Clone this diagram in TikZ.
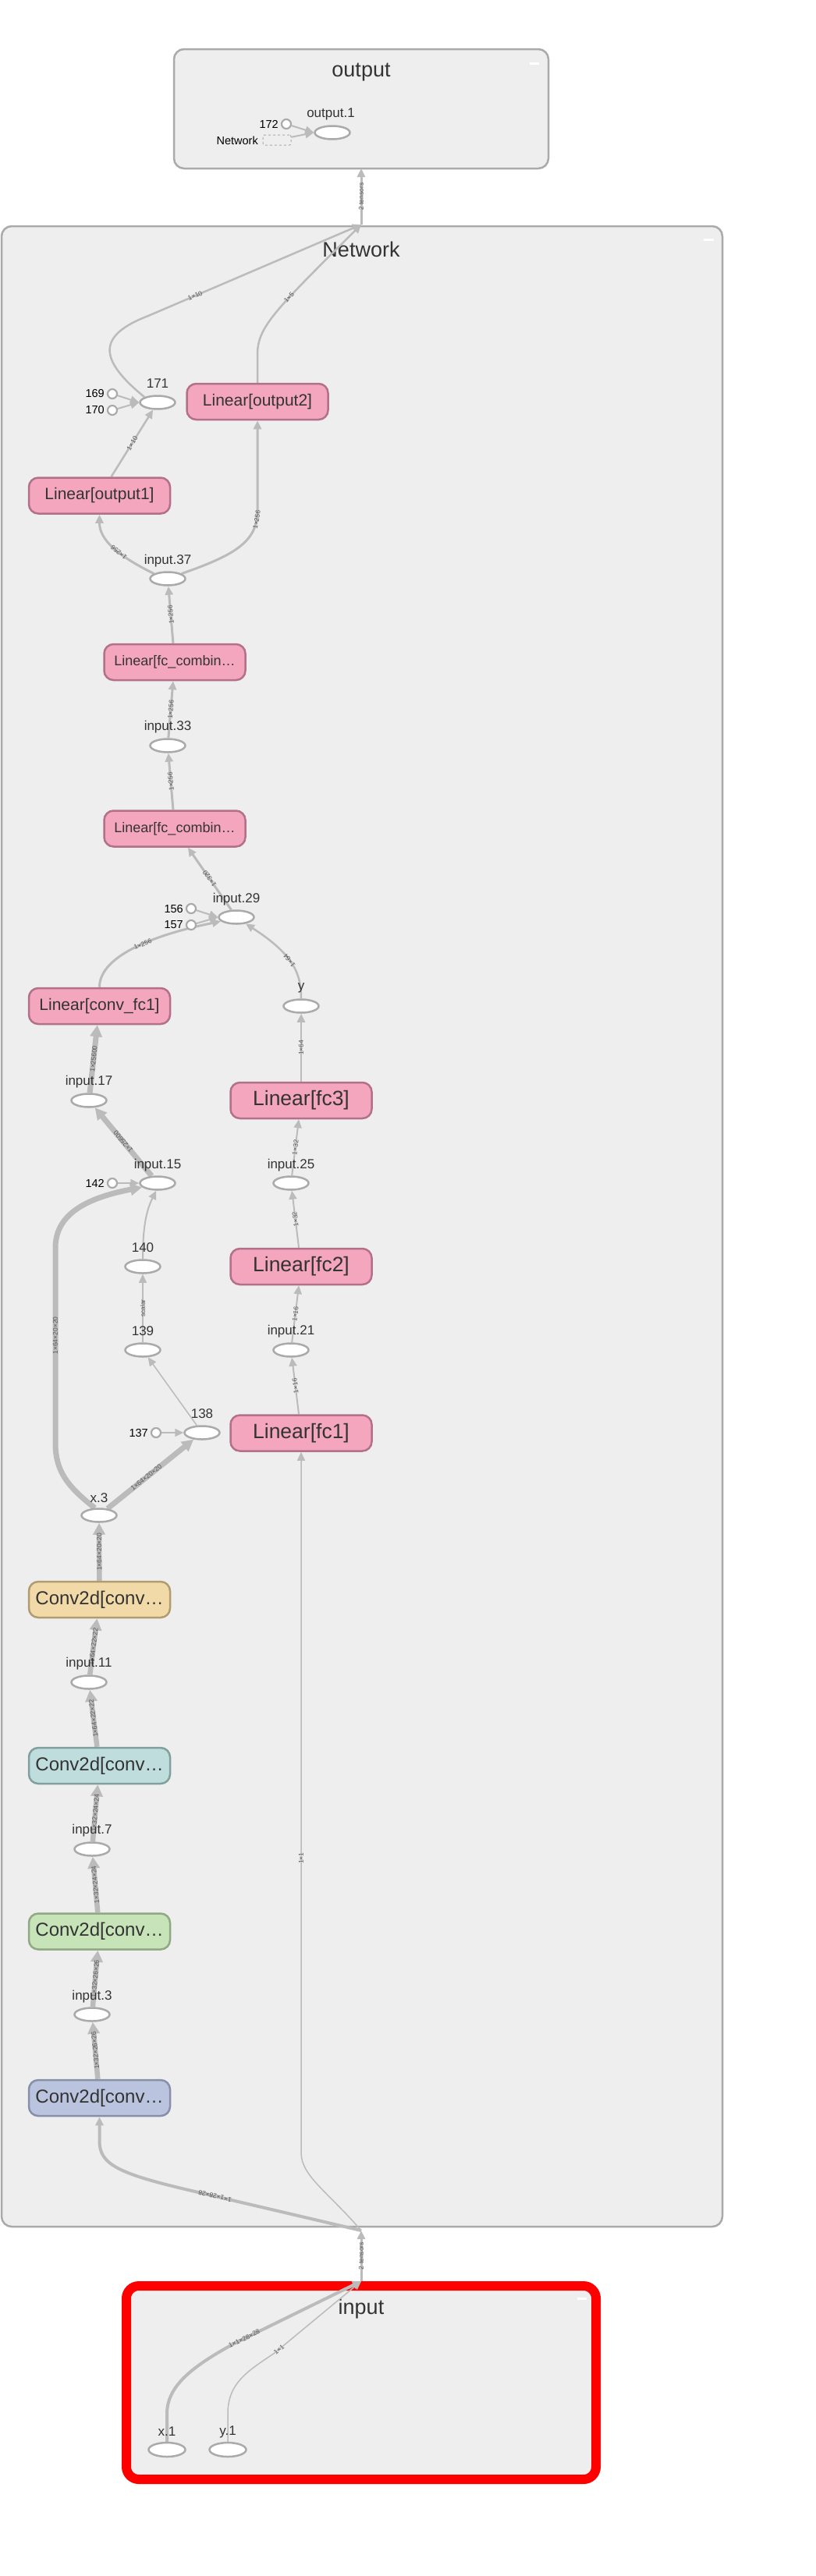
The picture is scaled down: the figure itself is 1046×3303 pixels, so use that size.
\documentclass[tikz,border=0pt]{standalone}
\usepackage{fontspec}
\setmainfont{Liberation Sans}
\usetikzlibrary{arrows.meta,shapes.geometric,calc}
\pgfdeclarelayer{grplayer}
\pgfdeclarelayer{edgelayer}
\pgfsetlayers{grplayer,edgelayer,main}
\definecolor{grpfill}{HTML}{EEEEEE}
\definecolor{grpline}{HTML}{AAAAAA}
\definecolor{ellline}{HTML}{AAAAAA}
\definecolor{edgec}{HTML}{BBBBBB}
\definecolor{txt}{HTML}{333333}
\definecolor{lblc}{HTML}{555555}
\definecolor{linfill}{HTML}{F4A6BF}
\definecolor{linline}{HTML}{B27089}
\definecolor{orfill}{HTML}{F2DAA8}
\definecolor{orline}{HTML}{B09C70}
\definecolor{tlfill}{HTML}{BEDDDC}
\definecolor{tlline}{HTML}{80A09E}
\definecolor{grfill}{HTML}{C7E3B8}
\definecolor{grline}{HTML}{90A884}
\definecolor{blfill}{HTML}{BAC4DE}
\definecolor{blline}{HTML}{8690A8}
\definecolor{redc}{HTML}{FF0000}
\begin{document}
\begin{tikzpicture}[x=1pt,y=-1pt,
  grpbox/.style={draw=grpline,fill=grpfill,line width=2.5pt,rounded corners=13pt},
  grptitle/.style={font=\fontsize{27}{27}\selectfont,text=txt,inner sep=0pt},
  opbox/.style={rectangle,rounded corners=12pt,line width=2.5pt,minimum width=181pt,minimum height=46pt,inner sep=0pt,text=txt},
  linbox/.style={opbox,fill=linfill,draw=linline},
  convbox/.style={opbox,font=\fontsize{24}{24}\selectfont},
  ellnode/.style={ellipse,draw=ellline,fill=white,line width=2.5pt,minimum width=45pt,minimum height=17pt,inner sep=0pt},
  cnode/.style={circle,draw=ellline,fill=white,line width=2.2pt,minimum size=12pt,inner sep=0pt},
  nlab/.style={font=\fontsize{17}{17}\selectfont,text=txt,inner sep=0pt},
  numlab/.style={font=\fontsize{14.5}{14.5}\selectfont,text=black,inner sep=0pt,anchor=east},
  elab/.style={font=\fontsize{8.5}{8.5}\selectfont,text=lblc,inner sep=0pt,sloped,allow upside down},
  conn/.style={draw=edgec,line width=#1,-{Triangle[length=11pt,width=10pt]}},
  conn/.default=2.5pt,
  bigconn/.style={draw=edgec,line width=#1,-{Triangle[length=15pt,width=15pt]}},
  bigconn/.default=6.5pt
]
\useasboundingbox (0,0) rectangle (1046,3303);
\begin{pgfonlayer}{grplayer}
\fill[white] (0,0) rectangle (1046,3303);
\draw[grpbox] (223,63) rectangle (703,216);
\draw[grpbox] (2,290) rectangle (926,2855);
\draw[grpbox,draw=redc,line width=12pt,rounded corners=16pt] (162,2931) rectangle (764,3179);
\fill[white] (679,80) rectangle (691,83);
\fill[white] (902,306) rectangle (915,309);
\fill[white] (740,2946) rectangle (752,2949);
\node[grptitle] (ttlout) at (463,93) {output};
\node[grptitle] (ttlnet) at (463,320) {Network};
\node[grptitle] (ttlin) at (463,2960) {input};
\end{pgfonlayer}

% coordinates for bridges
\coordinate (obot) at (463,216);
\coordinate (ntop) at (463,288);
\coordinate (nbot) at (463,2860);
\coordinate (itop) at (463,2925);

% output group
\node[ellnode] (out1) at (426,170) {};
\node[nlab] (out1lab) at (424,146) {output.1};
\node[cnode] (c172) at (367,159) {};
\node[numlab] (c172lab) at (357,159) {172};
\node[draw=ellline,dashed,line width=1pt,minimum width=36pt,minimum height=13pt,inner sep=0pt,rounded corners=2pt] (netref) at (355,179.5) {};
\node[numlab] (netreflab) at (331,180) {Network};

% Network group
\node[ellnode] (n171) at (202,516) {};
\node[nlab] (n171lab) at (202,492) {171};
\node[cnode] (c169) at (144,505) {};
\node[numlab] (c169lab) at (134,505) {169};
\node[cnode] (c170) at (144,526) {};
\node[numlab] (c170lab) at (134,526) {170};
\node[linbox,font=\fontsize{21}{21}\selectfont] (lo2) at (330,515) {Linear[output2]};
\node[linbox,font=\fontsize{21}{21}\selectfont] (lo1) at (127.5,635.5) {Linear[output1]};
\node[ellnode] (in37) at (215,742) {};
\node[nlab] (in37lab) at (215,719) {input.37};
\node[linbox,font=\fontsize{18}{18}\selectfont] (fcc1) at (224,849) {Linear[fc\_combin…};
\node[ellnode] (in33) at (215,956) {};
\node[nlab] (in33lab) at (215,932) {input.33};
\node[linbox,font=\fontsize{18}{18}\selectfont] (fcc2) at (224,1062.5) {Linear[fc\_combin…};
\node[ellnode] (in29) at (303,1176) {};
\node[nlab] (in29lab) at (303,1153) {input.29};
\node[cnode] (c156) at (245,1165) {};
\node[numlab] (c156lab) at (235,1165) {156};
\node[cnode] (c157) at (245,1186) {};
\node[numlab] (c157lab) at (235,1186) {157};
\node[linbox,font=\fontsize{21}{21}\selectfont] (cfc1) at (127.5,1290) {Linear[conv\_fc1]};
\node[ellnode] (yy) at (386,1290) {};
\node[nlab] (yylab) at (386,1267) {y};
\node[linbox,font=\fontsize{26.5}{26.5}\selectfont] (fc3) at (386,1411) {Linear[fc3]};
\node[ellnode] (in17) at (114,1411) {};
\node[nlab] (in17lab) at (114,1387) {input.17};
\node[ellnode] (in15) at (202,1517) {};
\node[nlab] (in15lab) at (202,1494) {input.15};
\node[cnode] (c142) at (144,1517) {};
\node[numlab] (c142lab) at (134,1517) {142};
\node[ellnode] (in25) at (373,1517) {};
\node[nlab] (in25lab) at (373,1494) {input.25};
\node[ellnode] (n140) at (183,1624) {};
\node[nlab] (n140lab) at (183,1600) {140};
\node[linbox,font=\fontsize{26.5}{26.5}\selectfont] (fc2) at (386,1624) {Linear[fc2]};
\node[ellnode] (n139) at (183,1731) {};
\node[nlab] (n139lab) at (183,1707) {139};
\node[ellnode] (in21) at (373,1731) {};
\node[nlab] (in21lab) at (373,1707) {input.21};
\node[ellnode] (n138) at (259,1837) {};
\node[nlab] (n138lab) at (259,1813) {138};
\node[cnode] (c137) at (200,1837) {};
\node[numlab] (c137lab) at (190,1837) {137};
\node[linbox,font=\fontsize{26.5}{26.5}\selectfont] (fc1) at (386,1837.5) {Linear[fc1]};
\node[ellnode] (x3) at (127,1943) {};
\node[nlab] (x3lab) at (127,1921) {x.3};
\node[convbox,fill=orfill,draw=orline] (conv4) at (127.5,2051) {Conv2d[conv…};
\node[ellnode] (in11) at (114,2157) {};
\node[nlab] (in11lab) at (114,2133) {input.11};
\node[convbox,fill=tlfill,draw=tlline] (conv3) at (127.5,2264) {Conv2d[conv…};
\node[ellnode] (in7) at (118,2371) {};
\node[nlab] (in7lab) at (118,2347) {input.7};
\node[convbox,fill=grfill,draw=grline] (conv2) at (127.5,2476.5) {Conv2d[conv…};
\node[ellnode] (in3) at (118,2583) {};
\node[nlab] (in3lab) at (118,2560) {input.3};
\node[convbox,fill=blfill,draw=blline] (conv1) at (127.5,2690) {Conv2d[conv…};

% input group
\node[ellnode,minimum width=47pt,minimum height=18pt] (x1) at (214,3141) {};
\node[nlab] (x1lab) at (214,3118) {x.1};
\node[ellnode,minimum width=47pt,minimum height=18pt] (y1) at (292,3141) {};
\node[nlab] (y1lab) at (292,3118) {y.1};

\begin{pgfonlayer}{edgelayer}
% output group
\draw[conn=2pt] (c172) -- (out1.west);
\draw[conn=2pt] (netref) -- (out1.west);
\draw[conn=3pt] (ntop) -- node[elab]{2 tensors} (obot);
% top of Network
\draw[conn=2.5pt] (n171.north west) .. controls (125,460) and (125,430) .. (190,405) -- node[elab,pos=0.22]{1×10} (ntop);
\draw[conn=2.5pt] (lo2.north) -- (330,455) .. controls (330,420) and (350,400) .. node[elab,pos=0.62]{1×5} (ntop);
\draw[conn=2.5pt] (lo1) -- node[elab]{1×10} (n171);
\draw[conn=2pt] (c169) -- (n171.west);
\draw[conn=2pt] (c170) -- (n171.west);
\draw[conn=3pt] (in37.160) .. controls (150,712) and (127.5,692) .. node[elab,pos=0.4]{1×256} (lo1.south);
\draw[conn=3pt] (in37.20) .. controls (300,712) and (330,695) .. node[elab,pos=0.9]{1×256} (330,655) -- (lo2.south);
\draw[conn=3pt] (fcc1) -- node[elab]{1×256} (in37);
\draw[conn=3pt] (in33) -- node[elab]{1×256} (fcc1);
\draw[conn=3pt] (fcc2) -- node[elab]{1×256} (in33);
\draw[conn=3pt] (in29) -- node[elab]{1×320} (fcc2);
\draw[conn=3pt] (cfc1.north) .. controls (127.5,1225) and (200,1198) .. node[elab,pos=0.55]{1×256} (in29.195);
\draw[conn=2.5pt] (yy.north) .. controls (386,1250) and (378,1225) .. node[elab,pos=0.55]{1×64} (in29.-35);
\draw[conn=2pt] (c156) -- (in29.west);
\draw[conn=2pt] (c157) -- (in29.west);
% middle
\draw[bigconn=7pt] (in17) -- node[elab]{1×25600} (cfc1);
\draw[bigconn=7pt] (in15) -- node[elab]{1×25600} (in17);
\draw[conn=2pt] (c142) -- (in15);
\draw[bigconn=7pt] (x3.120) .. controls (85,1905) and (71,1885) .. (71,1850) -- node[elab,pos=0.55]{1×64×20×20} (71,1600) .. controls (71,1560) and (105,1537) .. (in15.195);
\draw[conn=2pt] (n140.north) .. controls (183,1580) and (186,1555) .. (in15.-100);
\draw[conn=1.5pt] (n139) -- node[elab]{scalar} (n140);
\draw[conn=1.5pt] (n138) -- (n139);
\draw[conn=2pt] (c137) -- (n138);
\draw[bigconn=7pt] (x3) -- node[elab,pos=0.45]{1×64×20×20} (n138);
% conv chain
\draw[bigconn] (conv4) -- node[elab]{1×64×20×20} (x3);
\draw[bigconn] (in11) -- node[elab]{1×64×22×22} (conv4);
\draw[bigconn] (conv3) -- node[elab]{1×64×22×22} (in11);
\draw[bigconn] (in7) -- node[elab]{1×32×24×24} (conv3);
\draw[bigconn] (conv2) -- node[elab]{1×32×24×24} (in7);
\draw[bigconn] (in3) -- node[elab]{1×32×26×26} (conv2);
\draw[bigconn] (conv1) -- node[elab]{1×32×26×26} (in3);
% right column
\draw[conn=2pt] (fc1) -- node[elab]{1×16} (in21);
\draw[conn=2pt] (in21) -- node[elab]{1×16} (fc2);
\draw[conn=2pt] (fc2) -- node[elab]{1×32} (in25);
\draw[conn=2pt] (in25) -- node[elab]{1×32} (fc3);
\draw[conn=2.5pt] (fc3) -- node[elab]{1×64} (yy);
% bottom of Network
\draw[conn=1.5pt] (nbot) .. controls (420,2810) and (386,2790) .. (386,2760) -- node[elab,pos=0.42]{1×1} (fc1.south);
\draw[conn=4pt] (nbot) -- node[elab,pos=0.88]{1×1×28×28} (250,2810) .. controls (150,2787) and (127.5,2775) .. (127.5,2745) -- (conv1.south);
\draw[conn=3pt] (itop) -- node[elab]{2 tensors} (nbot);
% input group
\draw[conn=4pt] (x1.north) -- (214,3095) .. controls (214,3060) and (245,3035) .. (300,3005) -- node[elab,pos=0.08]{1×1×28×28} (itop);
\draw[conn=1.5pt] (y1.north) -- (292,3095) .. controls (292,3055) and (318,3040) .. (352,3017) -- node[elab,pos=0.05]{1×1} (itop);
\end{pgfonlayer}
\end{tikzpicture}
\end{document}
